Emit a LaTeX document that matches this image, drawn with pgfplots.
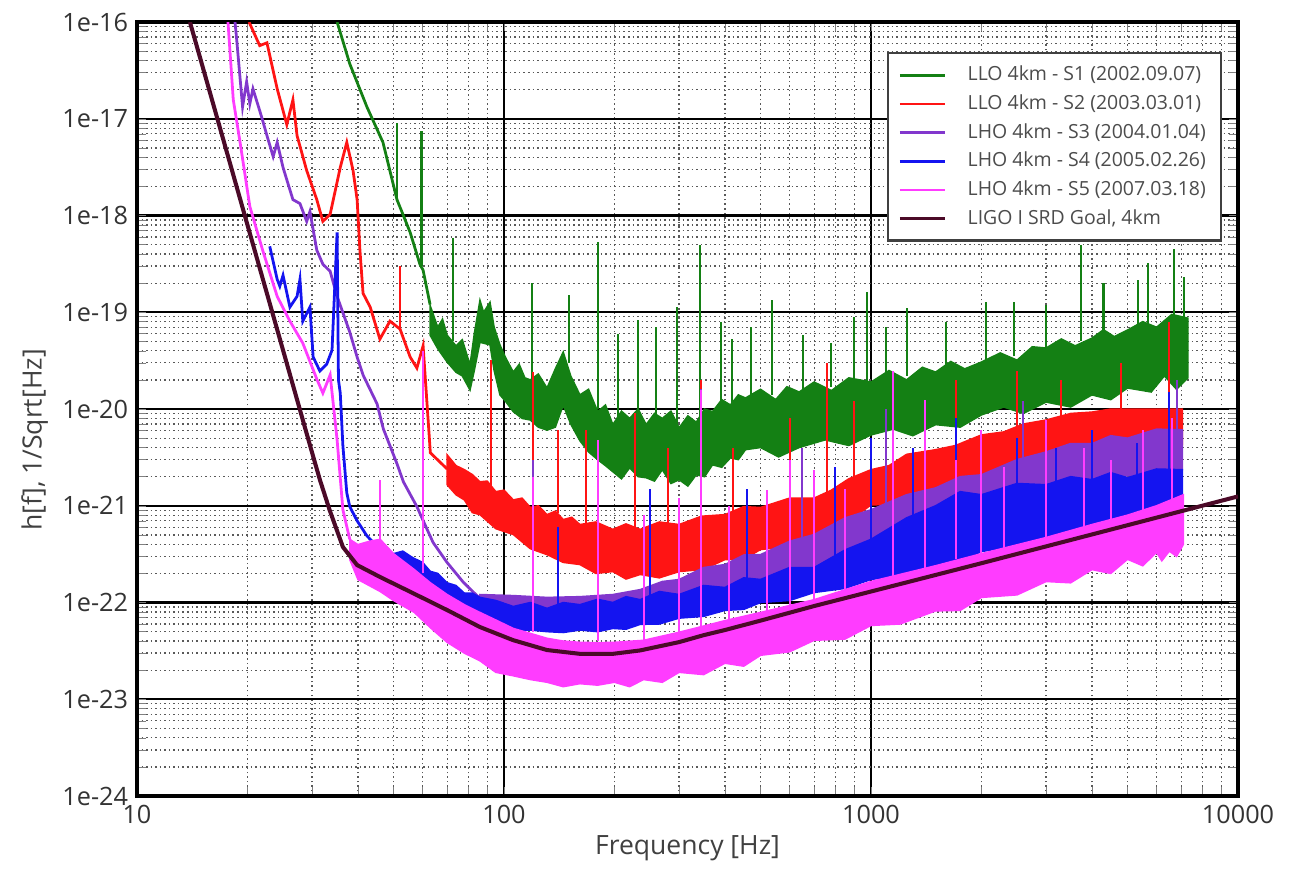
\documentclass[border=0pt]{standalone}
\usepackage{pgfplots}
\pgfplotsset{compat=1.18}
\usepackage{fontspec}
\setmainfont{Open Sans}

\definecolor{sone}{RGB}{20,128,20}
\definecolor{stwo}{RGB}{255,20,20}
\definecolor{sthree}{RGB}{130,55,205}
\definecolor{sfour}{RGB}{20,20,240}
\definecolor{sfive}{RGB}{255,60,255}
\definecolor{goal}{RGB}{75,10,40}

\begin{document}
\begin{tikzpicture}
\begin{axis}[
  scale only axis, width=153.2mm, height=107.7mm,
  xmode=log, ymode=log,
  xmin=10, xmax=10000, ymin=1e-24, ymax=1e-16,
  xtick={10,100,1000,10000}, xticklabels={10,100,1000,10000},
  ytick={1e-24,1e-23,1e-22,1e-21,1e-20,1e-19,1e-18,1e-17,1e-16},
  yticklabels={1e-24,1e-23,1e-22,1e-21,1e-20,1e-19,1e-18,1e-17,1e-16},
  grid=both,
  major grid style={black, line width=0.9pt},
  minor grid style={black!65, dash pattern=on 0.6pt off 1.2pt, line width=0.5pt},
  axis line style={black, line width=1.3pt},
  major tick length=0pt, minor tick length=1.2mm, tick align=inside,
  minor tick style={black!50},
  tick label style={font=\fontsize{10}{12}\selectfont, text=black!80},
  label style={font=\fontsize{10.5}{12}\selectfont, text=black!75},
  xlabel={Frequency [Hz]}, ylabel={h[f], 1/Sqrt[Hz]},
  x label style={at={(axis description cs:0.5,-0.067)}, anchor=center},
  y label style={at={(axis description cs:-0.093,0.46)}, anchor=center},
  legend style={at={(rel axis cs:0.9855,0.961)}, anchor=north east,
    draw=black!75, line width=0.9pt, fill=white,
    font=\fontsize{7.7}{9}\selectfont, text=black!70,
    row sep=0pt, inner xsep=4pt, inner ysep=3pt},
  legend cell align=left,
  legend image code/.code={\draw[#1] (0mm,0mm) -- (6.3mm,0mm); \path (8.5mm,0mm);},
  unbounded coords=jump,
]
\addlegendimage{sone, line width=1pt}
\addlegendentry{LLO 4km - S1 (2002.09.07)\hspace{1.2mm}}
\addlegendimage{stwo, line width=1pt}
\addlegendentry{LLO 4km - S2 (2003.03.01)}
\addlegendimage{sthree, line width=1pt}
\addlegendentry{LHO 4km - S3 (2004.01.04)}
\addlegendimage{sfour, line width=1pt}
\addlegendentry{LHO 4km - S4 (2005.02.26)}
\addlegendimage{sfive, line width=1pt}
\addlegendentry{LHO 4km - S5 (2007.03.18)}
\addlegendimage{goal, line width=1.4pt}
\addlegendentry{LIGO I SRD Goal, 4km}

% ---- S1 green ----
\addplot[sone, line width=1.1pt, forget plot] coordinates {
(35.1,1e-16) (38.0,3.7e-17) (42.3,1.33e-17) (46.8,5.7e-18) (51.1,1.46e-18)
(55.5,6.7e-19) (59.0,3.14e-19) (60.2,2.72e-19) (62.9,1.2e-19)};
\addplot[sone, fill=sone, line width=0.6pt, forget plot] coordinates {
(62.9,1.18e-19) (66,7e-20) (68,8.5e-20) (70,5.8e-20) (74,4.5e-20) (77,5.2e-20) (80.8,2.85e-20)
(83,6e-20) (86,1.33e-19) (88,1.0e-19) (91.6,1.27e-19) (94,7e-20) (97.5,4.6e-20) (101,3.4e-20)
(106,2.41e-20) (110,2.9e-20) (114,2.1e-20) (118,2.0e-20) (124,2.3e-20) (131,1.65e-20)
(138,2.6e-20) (145,3.88e-20) (152,2.2e-20) (161,1.4e-20) (170,1.6e-20) (180,9.4e-21)
(189,1.1e-20) (198,6.9e-21) (209,9.5e-21) (220,8.0e-21) (232,1.0e-20) (244,6.9e-21)
(257,9e-21) (270,8.0e-21) (285,9.5e-21) (300,6.4e-21) (317,8.5e-21) (334,7.3e-21)
(352,1.0e-20) (370,9.4e-21) (392,1.25e-20) (414,1.1e-20) (435,1.4e-20) (455,1.3e-20)
(500,1.6e-20) (550,1.25e-20) (590,1.7e-20) (637,1.5e-20) (700,1.9e-20) (780,1.55e-20)
(870,2.1e-20) (1000,1.9e-20) (1120,2.5e-20) (1250,2.0e-20) (1380,2.7e-20) (1500,2.41e-20)
(1650,3.1e-20) (1800,2.6e-20) (2000,3.06e-20) (2250,3.8e-20) (2500,3.2e-20) (2750,4.4e-20)
(3000,4.27e-20) (3300,5.3e-20) (3600,4.5e-20) (4000,5.4e-20) (4300,6.6e-20) (4600,5.6e-20)
(5000,6.55e-20) (5500,8.0e-20) (6000,7.0e-20) (6600,9.5e-20) (7300,8.7e-20)
(7300,2.09e-20) (6800,1.6e-20) (6300,2.2e-20) (5800,1.5e-20) (5000,1.65e-20) (4500,1.25e-20)
(4000,1.4e-20) (3500,1.05e-20) (3000,1.18e-20) (2600,9e-21) (2300,1.05e-20) (2000,8.7e-21)
(1750,6.5e-21) (1500,6.9e-21) (1300,5.3e-21) (1150,6.2e-21) (1000,5.4e-21) (870,4.2e-21)
(750,4.8e-21) (637,4.0e-21) (560,3.2e-21) (500,4.0e-21) (455,3.8e-21) (435,3.0e-21)
(414,3.13e-21) (392,2.5e-21) (370,2.65e-21) (352,2.0e-21) (334,2.09e-21) (317,1.6e-21)
(300,1.86e-21) (285,1.7e-21) (270,2.36e-21) (257,1.8e-21) (244,1.95e-21) (232,2.0e-21)
(220,2.47e-21) (209,1.9e-21) (198,2.25e-21) (189,2.6e-21) (180,3.0e-21) (170,3.6e-21)
(161,4.7e-21) (152,7e-21) (145,1.1e-20) (138,6.5e-21) (131,6.05e-21) (124,6.5e-21)
(118,7.7e-21) (112,8e-21) (106,9.4e-21) (101,1.2e-20) (97.5,1.4e-20) (94,2.5e-20)
(91.6,4.6e-20) (86,4.9e-20) (83,2.5e-20) (80.8,1.57e-20) (77,2.2e-20) (74,2.4e-20)
(70,3.06e-20) (66,4.2e-20) (62.9,5.8e-20)} -- cycle;
\addplot[sone, line width=0.8pt, forget plot] coordinates {
(51.1,1.46e-18) (51.1,9.1e-18) (51.1,nan)
(59.6,3e-19) (59.6,7.4e-18) (59.6,nan)
(72.6,5e-20) (72.6,5.8e-19) (72.6,nan)
(119,2e-20) (119,2.0e-19) (119,nan)
(150,3e-20) (150,1.5e-19) (150,nan)
(180,1e-20) (180,5.3e-19) (180,nan)
(205,8e-21) (205,6e-20) (205,nan)
(232,8e-21) (232,8.3e-20) (232,nan)
(260,8e-21) (260,7e-20) (260,nan)
(296,6.5e-21) (296,1.13e-19) (296,nan)
(342,7.3e-21) (342,4.9e-19) (342,nan)
(390,1.2e-20) (390,8e-20) (390,nan)
(418,1.1e-20) (418,5.3e-20) (418,nan)
(470,1.35e-20) (470,7e-20) (470,nan)
(537,1.4e-20) (537,1.33e-19) (537,nan)
(653,1.5e-20) (653,5.8e-20) (653,nan)
(778,1.7e-20) (778,4.8e-20) (778,nan)
(900,2e-20) (900,9e-20) (900,nan)
(975,1.9e-20) (975,1.61e-19) (975,nan)
(1100,2.3e-20) (1100,7e-20) (1100,nan)
(1253,2.2e-20) (1253,1.1e-19) (1253,nan)
(1600,2.8e-20) (1600,8e-20) (1600,nan)
(2056,3.1e-20) (2056,1.27e-19) (2056,nan)
(2453,3.5e-20) (2453,1.27e-19) (2453,nan)
(3000,4.3e-20) (3000,1.2e-19) (3000,nan)
(3735,5e-20) (3735,4.9e-19) (3735,nan)
(4300,6.5e-20) (4300,2e-19) (4300,nan)
(5342,6.8e-20) (5342,2.14e-19) (5342,nan)
(5690,7e-20) (5690,3.2e-19) (5690,nan)
(6700,8e-20) (6700,4.5e-19) (6700,nan)
(7130,8.5e-20) (7130,2.3e-19)};

% ---- S2 red ----
\addplot[stwo, line width=1.1pt, forget plot] coordinates {
(20.2,1e-16) (21.6,5.7e-17) (22.6,6.1e-17) (24.1,2.04e-17) (25.6,8.7e-18) (26.6,1.57e-17)
(27.3,6.7e-18) (29.0,2.92e-18) (30.9,1.46e-18) (32.1,8.7e-19) (33.6,1.03e-18) (35.8,3.14e-18)
(37.3,5.7e-18) (38.8,2.92e-18) (39.8,1.46e-18) (40.5,4.38e-19) (41.3,1.57e-19) (43.2,1.13e-19)
(45.9,5.28e-20) (48.9,8.1e-20) (52.1,6.7e-20) (55.5,3.45e-20) (57.9,2.65e-20) (60.2,4.5e-20)
(63,3.53e-21) (70,2.4e-21)};
\addplot[stwo, fill=stwo, line width=0.6pt, forget plot] coordinates {
(70,3.36e-21) (74,2.6e-21) (78,2.36e-21) (82,2.1e-21) (86,1.77e-21) (90,1.8e-21) (95,1.4e-21)
(100,1.45e-21) (106,1.15e-21) (112,1.2e-21) (118,9.6e-22) (124,1.0e-21) (131,8.1e-22)
(138,8.8e-22) (145,7.2e-22) (153,7.6e-22) (161,6.4e-22) (178,6.8e-22) (198,5.7e-22)
(215,6.5e-22) (235,5.7e-22) (265,6.8e-22) (300,6.4e-22) (345,7.8e-22) (400,8.1e-22)
(450,9.8e-22) (500,9.6e-22) (600,1.2e-21) (700,1.2e-21) (780,1.45e-21) (870,1.9e-21)
(1000,2.36e-21) (1120,2.6e-21) (1250,3.4e-21) (1500,3.8e-21) (1700,4.2e-21) (2000,5.4e-21)
(2300,5.8e-21) (2600,7e-21) (3000,7.7e-21) (3500,9e-21) (4000,9.3e-21) (4500,1.0e-20)
(7050,1.0e-20)
(7050,4.27e-21) (6500,3.6e-21) (6000,4.0e-21) (5500,3.2e-21) (5000,3.6e-21) (4500,2.8e-21)
(4000,3.13e-21) (3500,2.4e-21) (3000,2.47e-21) (2500,2.0e-21) (2000,1.77e-21) (1750,1.35e-21)
(1500,1.46e-21) (1250,1.05e-21) (1000,1.02e-21) (850,6.5e-22) (700,4.8e-22) (600,3.8e-22)
(500,3.53e-22) (450,2.8e-22) (400,2.78e-22) (350,2.2e-22) (300,2.09e-22) (265,1.8e-22)
(235,1.95e-22) (215,1.75e-22) (198,2.09e-22) (178,2.0e-22) (161,2.47e-22) (145,2.6e-22)
(131,3.13e-22) (118,3.6e-22) (106,5.05e-22) (95,5.8e-22) (86,8.1e-22) (82,8.5e-22)
(78,1.15e-21) (74,1.3e-21) (70,1.65e-21)} -- cycle;
\addplot[stwo, line width=0.8pt, forget plot] coordinates {
(52,6.7e-20) (52,3e-19) (52,nan)
(92,1.3e-21) (92,3.2e-20) (92,nan)
(120,9.6e-22) (120,2.4e-20) (120,nan)
(140,8.5e-22) (140,6e-21) (140,nan)
(167,6.4e-22) (167,6e-21) (167,nan)
(180,6.5e-22) (180,4e-21) (180,nan)
(228,5.7e-22) (228,9e-21) (228,nan)
(280,6.5e-22) (280,4e-21) (280,nan)
(345,6e-22) (345,2e-20) (345,nan)
(420,8e-22) (420,4e-21) (420,nan)
(600,1.2e-21) (600,8e-21) (600,nan)
(760,1.3e-21) (760,3e-20) (760,nan)
(900,2e-21) (900,1.2e-20) (900,nan)
(1150,3e-21) (1150,2e-20) (1150,nan)
(1700,4.5e-21) (1700,2e-20) (1700,nan)
(2500,6.5e-21) (2500,2.5e-20) (2500,nan)
(3300,8.5e-21) (3300,2e-20) (3300,nan)
(4800,1e-20) (4800,3e-20) (4800,nan)
(6500,1e-20) (6500,8e-20)};

% ---- S3 purple ----
\addplot[sthree, line width=1.1pt, forget plot] coordinates {
(18.5,1e-16) (18.7,6.5e-17) (19.4,1.33e-17) (19.9,2.41e-17) (20.3,1.43e-17) (20.7,2.04e-17)
(21.6,1.21e-17) (22.0,9.6e-18) (22.6,6.7e-18) (23.5,4.07e-18) (24.1,5.7e-18) (25.0,3.14e-18)
(26.6,1.46e-18) (27.8,1.33e-18) (29.0,8.7e-19) (29.6,1.1e-18) (30.9,4.38e-19) (32.1,3.14e-19)
(33.6,2.65e-19) (35.1,1.46e-19) (38.0,6.25e-20) (39.8,3.45e-20) (41.3,2.25e-20) (45.1,1.13e-20)
(46.9,6.25e-21) (48.9,4.17e-21) (51.1,2.72e-21) (53.2,1.77e-21) (57.9,9.8e-22) (61.6,5.8e-22)
(64.1,4.17e-22) (70,2.59e-22) (77.6,1.61e-22) (86,1.1e-22)};
\addplot[sthree, fill=sthree, line width=0.6pt, forget plot] coordinates {
(86,1.21e-22) (106,1.18e-22) (131,1.13e-22) (161,1.15e-22) (198,1.21e-22) (235,1.36e-22)
(270,1.65e-22) (300,1.73e-22) (350,2.3e-22) (400,2.47e-22) (450,3.1e-22) (500,3.13e-22)
(600,4.3e-22) (700,5.05e-22) (850,7.5e-22) (1000,9.1e-22) (1250,1.3e-21) (1500,1.53e-21)
(1750,2.0e-21) (2000,2.09e-21) (2500,3.0e-21) (3000,3.6e-21) (3500,4.4e-21) (4000,4.38e-21)
(4500,5.3e-21) (5000,5.0e-21) (6000,6.2e-21) (7050,6.1e-21)
(7050,2.36e-21) (5000,2.04e-21) (4000,1.86e-21) (3000,1.53e-21) (2000,8.7e-22) (1500,6.4e-22)
(1000,3.13e-22) (700,1.95e-22) (500,1.36e-22) (400,1.13e-22) (300,9.4e-23) (235,8.3e-23)
(198,7.55e-23) (161,7.2e-23) (131,7.2e-23) (106,7.55e-23) (86,8.3e-23)} -- cycle;
\addplot[sthree, line width=0.8pt, forget plot] coordinates {
(120,1.1e-22) (120,3e-21) (120,nan)
(180,1.2e-22) (180,2e-21) (180,nan)
(345,1.8e-22) (345,1.6e-20) (345,nan)
(650,4.5e-22) (650,4e-21) (650,nan)
(1100,1e-21) (1100,1e-20) (1100,nan)
(2600,3e-21) (2600,1.2e-20) (2600,nan)
(6800,6e-21) (6800,2e-20)};

% ---- S4 blue ----
\addplot[sfour, line width=1.1pt, forget plot] coordinates {
(23.0,4.8e-19) (24.1,2.19e-19) (24.5,1.86e-19) (25.0,2.41e-19) (26.1,1.13e-19) (27.3,1.46e-19)
(27.8,2.19e-19) (28.3,8.1e-20) (29.6,1.13e-19) (30.2,3.45e-20) (31.5,2.47e-20) (32.9,2.92e-20)
(34.0,4.07e-20) (35.1,6.7e-19) (35.4,2.0e-20) (35.8,1.46e-20) (36.4,4.17e-21) (37.3,1.36e-21)
(38.0,9.8e-22) (39.8,7.0e-22) (42.3,4.9e-22) (45.9,3.53e-22)};
\addplot[sfour, fill=sfour, line width=0.6pt, forget plot] coordinates {
(45.9,3.8e-22) (50,3.2e-22) (53,3.4e-22) (56.5,2.9e-22) (60,2.6e-22) (63,2.1e-22) (66,2.0e-22)
(70,1.6e-22) (74,1.5e-22) (78,1.25e-22) (82,1.25e-22) (86,1.13e-22) (95,1.05e-22) (106,9.1e-23)
(118,1.0e-22) (131,8.7e-23) (145,1.0e-22) (161,9.5e-23) (180,1.08e-22) (198,1.0e-22)
(215,1.15e-22) (235,1.07e-22) (265,1.3e-22) (300,1.21e-22) (350,1.5e-22) (400,1.43e-22)
(450,1.8e-22) (500,1.73e-22) (600,2.3e-22) (700,2.3e-22) (850,3.5e-22) (1000,4.5e-22)
(1250,7.5e-22) (1500,1.0e-21) (1750,1.4e-21) (2000,1.3e-21) (2500,1.7e-21) (3000,1.65e-21)
(3500,2.0e-21) (4000,1.86e-21) (4500,2.2e-21) (5000,1.95e-21) (6000,2.4e-21) (7050,2.36e-21)
(7050,1.24e-21) (6000,9.5e-22) (5000,8.1e-22) (4500,6.8e-22) (4000,6.4e-22) (3500,5.3e-22)
(3000,4.8e-22) (2500,3.9e-22) (2000,3.36e-22) (1750,2.7e-22) (1500,2.47e-22) (1250,1.95e-22)
(1000,1.73e-22) (850,1.4e-22) (700,1.27e-22) (600,1.05e-22) (500,1.0e-22) (450,8.5e-23)
(400,8.3e-23) (350,7.2e-23) (300,6.9e-23) (265,6.0e-23) (235,5.95e-23) (215,5.3e-23)
(198,5.4e-23) (180,5.0e-23) (161,5.2e-23) (145,4.9e-23) (131,5.0e-23) (118,5.2e-23)
(106,5.2e-23) (95,5.8e-23) (86,6.9e-23) (78,8.5e-23) (70,1.13e-22) (63,1.6e-22)
(56.5,2.19e-22) (50,2.78e-22) (45.9,3.13e-22)} -- cycle;
\addplot[sfour, line width=0.8pt, forget plot] coordinates {
(120,9e-23) (120,1.5e-21) (120,nan)
(140,9e-23) (140,6e-22) (140,nan)
(180,1e-22) (180,3e-21) (180,nan)
(250,1.1e-22) (250,1.5e-21) (250,nan)
(345,1.3e-22) (345,5e-21) (345,nan)
(460,1.6e-22) (460,1.5e-21) (460,nan)
(600,1.6e-22) (600,3e-21) (600,nan)
(800,2.8e-22) (800,2.5e-21) (800,nan)
(1000,4e-22) (1000,5e-21) (1000,nan)
(1300,7e-22) (1300,4e-21) (1300,nan)
(1700,1e-21) (1700,8e-21) (1700,nan)
(2500,1.4e-21) (2500,5e-21) (2500,nan)
(3200,1.8e-21) (3200,4e-21) (3200,nan)
(4000,1.9e-21) (4000,6e-21) (4000,nan)
(5300,2e-21) (5300,4.5e-21) (5300,nan)
(6500,2.3e-21) (6500,1.5e-20)};

% ---- S5 magenta ----
\addplot[sfive, line width=1.1pt, forget plot] coordinates {
(17.7,1e-16) (18.3,1.57e-17) (19.1,5.68e-18) (20.3,1.24e-18) (22.0,4.38e-19) (24.1,1.46e-19)
(26.1,8.1e-20) (28.3,4.8e-20) (30.9,2.04e-20) (32.1,1.46e-20) (33.6,2.25e-20) (35.1,4.8e-21)
(36.4,9.1e-22) (38.0,4.5e-22)};
\addplot[sfive, fill=sfive, line width=0.6pt, forget plot] coordinates {
(38,4.5e-22) (40,3.97e-22) (43,4.3e-22) (46,4.5e-22) (50,3.2e-22) (57,2.19e-22) (63,1.6e-22)
(70,1.21e-22) (78,9.5e-23) (86,7.9e-23) (95,6.6e-23) (106,5.4e-23) (118,4.8e-23) (131,4.27e-23)
(145,4.0e-23) (161,3.88e-23) (180,3.85e-23) (200,3.88e-23) (240,4.07e-23) (300,4.93e-23)
(400,6.5e-23) (500,7.9e-23) (700,1.07e-22) (1000,1.65e-22) (1500,2.4e-22) (2000,3.2e-22)
(3000,4.7e-22) (4000,6.4e-22) (5000,8.0e-22) (6000,1.0e-21) (7100,1.3e-21)
(7100,4.0e-22) (6800,3.0e-22) (6500,3.4e-22) (6200,2.7e-22) (6000,3.3e-22) (5500,2.4e-22)
(5000,2.8e-22) (4500,2.0e-22) (4000,2.19e-22) (3500,1.6e-22) (3000,1.65e-22) (2500,1.2e-22)
(2000,1.13e-22) (1750,8.3e-23) (1500,8.2e-23) (1200,6.0e-23) (1000,5.8e-23) (850,4.2e-23)
(700,4.07e-23) (600,3.1e-23) (500,2.85e-23) (450,2.2e-23) (400,2.36e-23) (350,1.8e-23)
(300,1.9e-23) (270,1.5e-23) (240,1.6e-23) (220,1.35e-23) (200,1.5e-23) (180,1.4e-23)
(161,1.45e-23) (145,1.35e-23) (131,1.5e-23) (118,1.6e-23) (106,1.75e-23) (95,1.9e-23)
(86,2.5e-23) (78,3.0e-23) (70,3.88e-23) (63,5.5e-23) (57,7.9e-23) (50,1.05e-22) (46,1.3e-22)
(40,1.73e-22) (38,2.78e-22)} -- cycle;
\addplot[sfive, line width=0.8pt, forget plot] coordinates {
(46,4e-22) (46,1.86e-21) (46,nan)
(60,2e-22) (60,4e-20) (60,nan)
(120,5e-23) (120,2e-21) (120,nan)
(180,4e-23) (180,4.8e-21) (180,nan)
(240,4e-23) (240,8e-22) (240,nan)
(300,5e-23) (300,1.2e-21) (300,nan)
(345,5.5e-23) (345,1.57e-20) (345,nan)
(410,6.5e-23) (410,1e-21) (410,nan)
(520,8e-23) (520,1.46e-21) (520,nan)
(600,9e-23) (600,3e-21) (600,nan)
(700,1.07e-22) (700,2.36e-21) (700,nan)
(850,1.3e-22) (850,1.5e-21) (850,nan)
(1150,1.9e-22) (1150,2.5e-20) (1150,nan)
(1400,2.3e-22) (1400,1.24e-20) (1400,nan)
(1700,2.8e-22) (1700,3e-21) (1700,nan)
(2000,3.2e-22) (2000,6.1e-21) (2000,nan)
(2300,3.7e-22) (2300,2.5e-21) (2300,nan)
(3000,4.7e-22) (3000,7.7e-21) (3000,nan)
(3800,6e-22) (3800,4e-21) (3800,nan)
(4500,7e-22) (4500,3e-21) (4500,nan)
(5500,8.5e-22) (5500,6e-21) (5500,nan)
(6600,1.1e-21) (6600,8e-21)};

% ---- SRD goal ----
\addplot[goal, line width=1.6pt, forget plot] coordinates {
(13.94,1e-16) (15,3.76e-17) (18,3.28e-18) (20,8.0e-19) (25,4.06e-20) (30,3.54e-21)
(31.5,1.86e-21) (33.5,9e-22) (36.4,3.75e-22) (39.8,2.44e-22) (45.9,1.84e-22) (56.5,1.25e-22)
(70,8.36e-23) (86,5.58e-23) (105.8,4.09e-23) (130.9,3.23e-23) (161,2.95e-23) (198,2.95e-23)
(235,3.2e-23) (300,3.9e-23) (350,4.6e-23) (400,5.2e-23) (500,6.5e-23) (700,9.2e-23)
(1000,1.3e-22) (2000,2.55e-22) (5000,6.3e-22) (10000,1.25e-21)};
\end{axis}
\path ([xshift=-19.06mm,yshift=-9.88mm]current axis.south west)
  rectangle ([xshift=7.79mm,yshift=3.06mm]current axis.north east);
\end{tikzpicture}
\end{document}
